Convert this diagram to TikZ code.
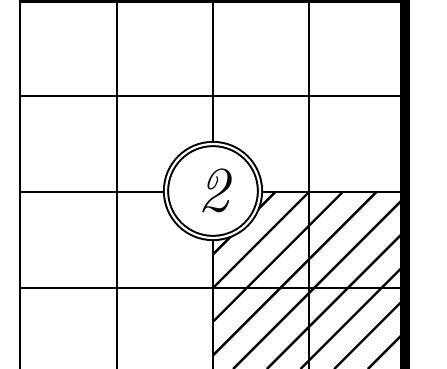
\documentclass[tikz,border=0pt]{standalone}
\usetikzlibrary{positioning}
\begin{document}
\begin{tikzpicture}[x=1pt,y=-1pt,
	gridline/.style={line width=2.6pt},
	hatchline/.style={line width=2.4pt},
	marker/.style={circle, draw, double, line width=2pt, double distance=2.2pt, fill=white,
		minimum size=94pt, inner sep=0pt, font=\fontsize{64}{64}\selectfont\itshape}]
	\useasboundingbox (0,0) rectangle (447,369);
	% grid
	\foreach \x in {20,117,213,309}
	\draw[gridline] (\x,0.5) -- (\x,369);
	\foreach \y in {1.8,96,192,288}
	\draw[gridline] (20,\y) -- (400,\y);
	\fill (400,0) rectangle (410,369);
	% hatched block
	\begin{scope}
		\clip (213,192) rectangle (400,369);
		\foreach \c in {399.9,433.6,...,780}
		\draw[hatchline] ({\c-192},192) -- ({\c-369},369);
	\end{scope}
	\node[marker] (two) at (213,191) {2};
\end{tikzpicture}
\end{document}
